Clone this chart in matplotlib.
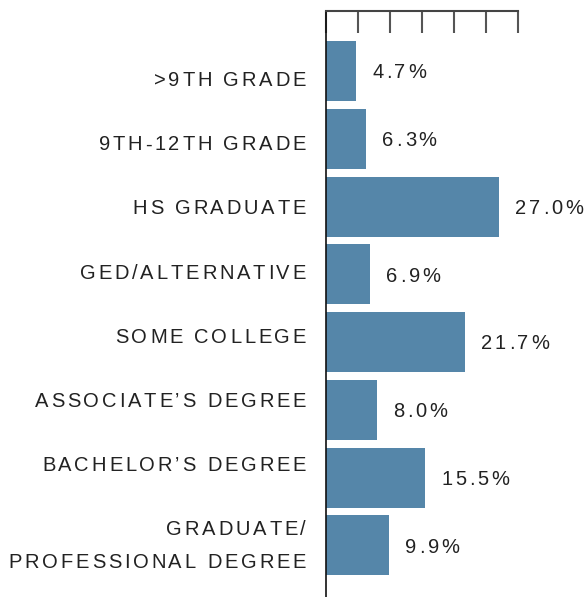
import numpy as np
import matplotlib.pyplot as plt
from matplotlib.font_manager import FontProperties, findfont, get_font

categories = [">9TH GRADE", "9TH-12TH GRADE", "HS GRADUATE", "GED/ALTERNATIVE",
              "SOME COLLEGE", "ASSOCIATE\u2019S DEGREE", "BACHELOR\u2019S DEGREE",
              "GRADUATE/\nPROFESSIONAL DEGREE"]
values = [4.7, 6.3, 27.0, 6.9, 21.7, 8.0, 15.5, 9.9]
ticks = [0, 5, 10, 15, 20, 25, 30]

bar_color = '#5586a9'
text_color = '#222222'
FAMILY = 'Liberation Sans'
SIZE = 14.5      # points
TRACK = 2.8      # extra pixels between letters
DPI = 100

plt.rcParams['font.family'] = [FAMILY, 'DejaVu Sans']
ft = get_font(findfont(FontProperties(family=FAMILY)))
ft.set_size(SIZE, DPI)
cap_px = 0.716 * SIZE * DPI / 72


def advance(c):
    return ft.load_char(ord(c)).linearHoriAdvance / 65536


# draw text letter by letter to get the wide tracking of the original
def spaced_text(ax, s, xy, xycoords, dx, dy, ha='left'):
    advs = [advance(c) for c in s]
    total = sum(advs) + TRACK * (len(s) - 1)
    x = dx - total if ha == 'right' else dx
    for c, adv in zip(s, advs):
        if c != ' ':
            ax.annotate(c, xy, xycoords=xycoords, xytext=(x, dy - cap_px / 2),
                        textcoords='offset pixels', ha='left', va='baseline',
                        fontsize=SIZE, color=text_color, annotation_clip=False)
        x += adv + TRACK


fig = plt.figure(figsize=(5.88, 5.97), dpi=DPI)
ax = fig.add_axes([326/588, 0, (518-326)/588, 1 - 11/597])

y = np.arange(len(categories))
ax.barh(y, values, height=0.885, color=bar_color, zorder=2)

ax.set_xlim(0, 30)
ax.set_ylim(len(categories) - 1 + 0.76, -0.885)

ax.xaxis.tick_top()
ax.set_xticks(ticks)
ax.tick_params(axis='x', direction='in', length=16, width=1.5, color='#555555',
               labeltop=False, labelbottom=False)
ax.set_yticks([])

for s in ['right', 'bottom']:
    ax.spines[s].set_visible(False)
ax.spines['top'].set_linewidth(1.5)
ax.spines['top'].set_color('#444444')
ax.spines['left'].set_linewidth(1.2)
ax.spines['left'].set_color('#111111')

# category labels sit on their own even grid, a little tighter than the bars
ax_h = 586
for i, lab in enumerate(categories):
    yc = 79 + 64.1 * i
    lines = lab.split('\n')
    if len(lines) > 1:
        offs = [-16.5, 16.5]
        yc = 544
    else:
        offs = [0]
    for line, o in zip(lines, offs):
        fy = 1 - (yc + o - 11) / ax_h
        spaced_text(ax, line, (0, fy), 'axes fraction', -20, 0, ha='right')

for yi, v in zip(y, values):
    spaced_text(ax, f"{v:.1f}%", (v, yi), 'data', 16, 0, ha='left')

fig.savefig('out.png', dpi=DPI)
